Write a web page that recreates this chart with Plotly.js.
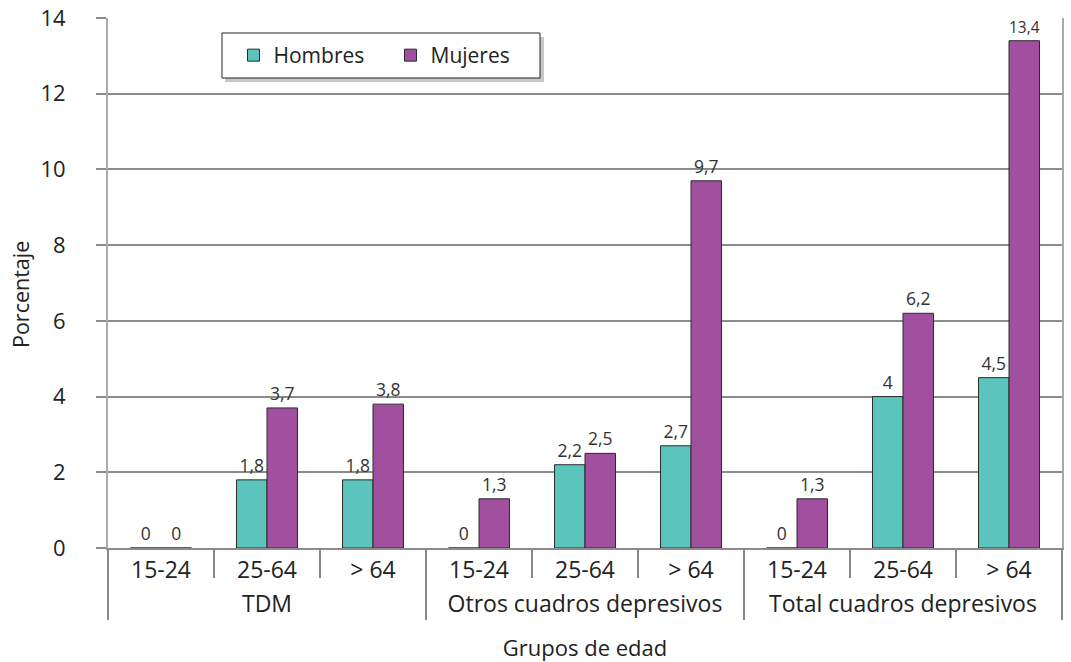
<!DOCTYPE html>
<html>
<head>
<meta charset="utf-8">
<script src="https://cdn.plot.ly/plotly-3.0.1.min.js"></script>
<style>html,body{margin:0;padding:0;background:#fff;}#chart{width:1071px;height:662px;}</style>
</head>
<body>
<div id="chart"></div>
<script>
var groups = ['TDM','TDM','TDM','Otros cuadros depresivos','Otros cuadros depresivos','Otros cuadros depresivos','Total cuadros depresivos','Total cuadros depresivos','Total cuadros depresivos'];
var ages = ['15-24','25-64','> 64','15-24','25-64','> 64','15-24','25-64','> 64'];
var hombres = [0, 1.8, 1.8, 0, 2.2, 2.7, 0, 4, 4.5];
var mujeres = [0, 3.7, 3.8, 1.3, 2.5, 9.7, 1.3, 6.2, 13.4];
var yTicks = [0, 2, 4, 6, 8, 10, 12, 14];

function fmt(v){ return String(v).replace('.', ','); }

var font = '"Open Sans", "Noto Sans", sans-serif';
var L = 108, R = 1062, T = 18, B = 548;
function px(x){ return (x - L) / (R - L); }
function py(y){ return (B - y) / (B - T); }

var traces = [
  {type:'bar', name:'Hombres', x:[groups, ages], y:hombres,
   text:hombres.map(fmt), textposition:'outside', cliponaxis:false,
   textfont:{size:17.5, color:'#333'},
   marker:{color:'#5bc5bd', line:{color:'#2b2b2b', width:1}}},
  {type:'bar', name:'Mujeres', x:[groups, ages], y:mujeres,
   text:mujeres.map(fmt), textposition:'outside', cliponaxis:false,
   textfont:{size:17.5, color:'#333'},
   marker:{color:'#a0509f', line:{color:'#2b2b2b', width:1}}}
];

var shapes = [];
// short dividers between age subcategories
[0.5, 1.5, 3.5, 4.5, 6.5, 7.5].forEach(function(p){
  shapes.push({type:'line', xref:'x', yref:'paper', x0:p, x1:p, y0:0, y1:-30/530,
    line:{color:'#888', width:2}});
});
// legend shadow and frame
shapes.push({type:'rect', xref:'paper', yref:'paper', layer:'above',
  x0:px(225), x1:px(544), y0:py(82), y1:py(37),
  fillcolor:'rgba(0,0,0,0.22)', line:{width:0}});
shapes.push({type:'rect', xref:'paper', yref:'paper', layer:'above',
  x0:px(222), x1:px(540), y0:py(78), y1:py(33),
  fillcolor:'#ffffff', line:{color:'#222', width:1}});

var layout = {
  width:1071, height:662,
  margin:{l:L, r:1071-R, t:T, b:662-B},
  paper_bgcolor:'#fff', plot_bgcolor:'#fff',
  font:{family:font, color:'#222'},
  barmode:'group', bargap:0.425, bargroupgap:0,
  showlegend:true,
  legend:{orientation:'h', x:px(233.5), y:py(55.5), xanchor:'left', yanchor:'middle',
    bgcolor:'rgba(0,0,0,0)', borderwidth:0, font:{size:21, color:'#222'},
    itemwidth:30, entrywidth:112, entrywidthmode:'pixels'},
  xaxis:{type:'multicategory', showline:true, linecolor:'#8c8c8c', linewidth:2,
    tickfont:{size:23, color:'#222'}, ticks:'', showdividers:true,
    dividercolor:'#888', dividerwidth:2,
    title:{text:'Grupos de edad', font:{size:22, color:'#222'}, standoff:23}},
  yaxis:{range:[0,14], tickvals:yTicks, ticktext:yTicks.map(String),
    showgrid:true, gridcolor:'#8c8c8c', gridwidth:2,
    showline:true, mirror:true, linecolor:'#aaaaaa', linewidth:2,
    ticks:'outside', ticklen:10, tickwidth:2, tickcolor:'#8c8c8c',
    ticklabelstandoff:26, tickfont:{size:22, color:'#222'}, zeroline:false},
  annotations:[{text:'Porcentaje', xref:'paper', yref:'paper', x:px(20), y:py(295),
    xanchor:'center', yanchor:'middle', textangle:-90, showarrow:false,
    font:{size:21.5, color:'#222'}}],
  shapes:shapes
};

Plotly.newPlot('chart', traces, layout, {displayModeBar:false, staticPlot:true});
</script>
</body>
</html>
